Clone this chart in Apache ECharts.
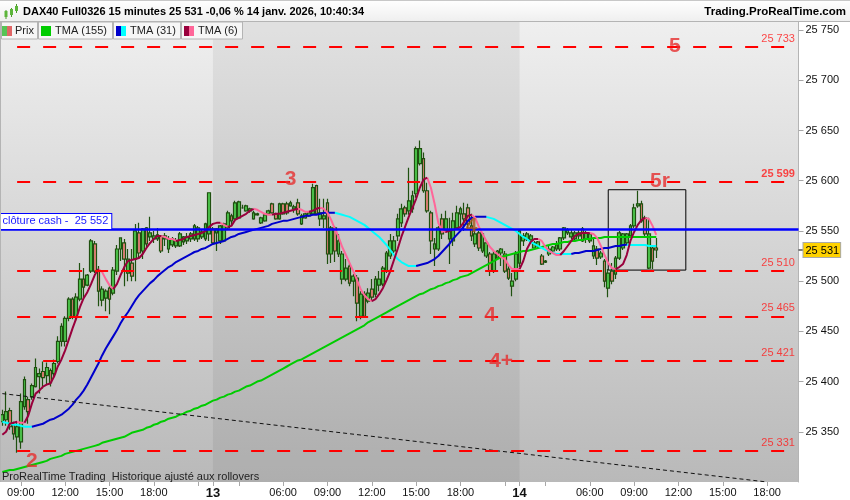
<!DOCTYPE html>
<html><head><meta charset="utf-8">
<style>html,body{margin:0;padding:0;background:#fff}#c{width:850px;height:500px}</style>
<script src="https://cdn.jsdelivr.net/npm/echarts@6/dist/echarts.min.js"></script>
</head><body><div id="c"></div>
<script>
const opens=[25360,25362,25371,25357,25345,25340,25375,25382,25385,25395,
25405,25410,25406,25411,25408,25420,25440,25440,25463,25482,
25464,25482,25502,25496,25510,25537,25510,25481,25483,25493,
25488,25510,25532,25538,25508,25518,25522,25548,25530,25553,
25544,25542,25542,25545,25542,25532,25536,25535,25535,25539,
25540,25542,25542,25542,25544,25542,25547,25552,25548,25540,
25540,25553,25565,25562,25563,25573,25570,25570,25562,25566,
25558,25560,25567,25577,25567,25562,25577,25577,25575,25572,
25578,25557,25563,25565,25567,25595,25562,25562,25578,25527,
25553,25527,25502,25502,25515,25500,25503,25465,25487,25480,
25492,25487,25496,25497,25510,25525,25530,25545,25558,25573,
25570,25572,25587,25617,25622,25590,25568,25532,25532,25562,
25550,25542,25540,25553,25567,25567,25573,25555,25537,25548,
25530,25525,25527,25510,25523,25528,25527,25512,25495,25502,
25518,25540,25542,25541,25533,25535,25525,25519,25527,25530,
25532,25532,25543,25548,25544,25542,25545,25552,25542,25540,
25525,25532,25524,25520,25493,25510,25507,25523,25533,25538,
25545,25555,25575,25577,25563,25513,25533,25533];
const closes=[25367,25370,25355,25348,25355,25380,25402,25370,25396,25414,
25408,25404,25414,25399,25418,25440,25455,25463,25482,25464,
25484,25502,25494,25506,25540,25510,25490,25492,25490,25482,
25511,25532,25543,25522,25522,25505,25550,25528,25552,25537,
25548,25545,25546,25530,25545,25542,25542,25540,25547,25544,
25544,25547,25555,25553,25549,25557,25588,25538,25552,25555,
25557,25568,25560,25578,25579,25573,25575,25572,25568,25567,
25563,25566,25570,25568,25562,25577,25567,25568,25578,25574,
25567,25565,25567,25568,25593,25567,25568,25565,25527,25553,
25530,25540,25527,25513,25498,25505,25478,25487,25465,25488,
25484,25502,25502,25513,25528,25540,25540,25562,25572,25567,
25580,25585,25632,25632,25590,25570,25540,25537,25553,25547,
25562,25550,25560,25568,25572,25562,25557,25545,25547,25533,
25547,25538,25510,25527,25530,25532,25510,25503,25500,25527,
25550,25545,25547,25545,25538,25539,25517,25520,25532,25534,
25536,25543,25553,25551,25548,25548,25548,25540,25548,25547,
25535,25523,25528,25500,25508,25500,25523,25548,25547,25547,
25555,25573,25577,25560,25547,25547,25520,25531];
const lows=[25356,25356,25352,25342,25329,25333,25372,25358,25382,25394,
25388,25393,25397,25395,25405,25418,25435,25435,25460,25462,
25460,25480,25483,25495,25508,25508,25475,25475,25470,25467,
25486,25506,25520,25495,25500,25500,25500,25522,25522,25534,
25540,25538,25540,25528,25535,25528,25534,25533,25534,25536,
25537,25539,25540,25539,25542,25540,25540,25536,25530,25537,
25539,25551,25556,25561,25562,25572,25569,25568,25561,25565,
25557,25559,25566,25567,25561,25561,25566,25566,25574,25568,
25565,25556,25562,25564,25566,25566,25555,25553,25517,25518,
25519,25524,25497,25500,25495,25485,25460,25462,25464,25478,
25480,25484,25490,25495,25508,25522,25528,25540,25554,25564,
25566,25568,25583,25615,25588,25568,25527,25515,25530,25542,
25548,25517,25535,25551,25555,25550,25552,25540,25534,25530,
25528,25523,25505,25508,25522,25515,25508,25501,25485,25500,
25514,25535,25540,25537,25531,25533,25516,25518,25525,25528,
25530,25530,25541,25546,25542,25540,25542,25539,25538,25538,
25522,25516,25522,25494,25484,25497,25502,25521,25531,25536,
25543,25553,25573,25558,25544,25512,25512,25523];
const highs=[25372,25390,25374,25360,25360,25388,25405,25385,25398,25423,
25413,25420,25419,25413,25422,25445,25458,25465,25484,25484,
25488,25518,25513,25507,25542,25540,25515,25495,25492,25496,
25514,25536,25543,25542,25532,25532,25557,25558,25553,25554,
25564,25550,25553,25546,25548,25545,25544,25543,25549,25545,
25548,25549,25557,25555,25551,25558,25588,25554,25553,25556,
25558,25570,25567,25580,25580,25576,25576,25573,25570,25568,
25564,25567,25571,25578,25568,25578,25578,25579,25580,25576,
25582,25567,25568,25569,25597,25596,25582,25582,25582,25555,
25555,25547,25530,25522,25518,25507,25506,25490,25490,25493,
25502,25505,25510,25515,25530,25547,25545,25567,25577,25575,
25613,25590,25634,25640,25628,25598,25570,25543,25555,25567,
25570,25563,25568,25575,25574,25578,25577,25567,25552,25550,
25547,25540,25529,25530,25531,25533,25530,25515,25508,25530,
25552,25548,25549,25547,25540,25540,25527,25521,25535,25535,
25540,25544,25554,25553,25552,25550,25552,25554,25550,25548,
25543,25535,25530,25522,25512,25518,25525,25550,25548,25548,
25557,25577,25590,25580,25565,25563,25535,25543];
const tma155=[25310,25311,25312,25312,25313,25314,25315,25316,25317,25318,25319,25320,25321,25323,25324,25325,25326,25328,25329,25330,25331,25332,25333,25334,25335,25336,25337,25339,25340,25341,25342,25343,25344,25345,25347,25349,25350,25351,25352,25354,25355,25357,25358,25360,25361,25363,25364,25365,25367,25368,25370,25371,25373,25374,25376,25377,25379,25381,25382,25384,25385,25387,25388,25390,25391,25393,25395,25396,25398,25400,25401,25403,25405,25407,25409,25411,25413,25415,25417,25419,25421,25422,25424,25426,25428,25430,25432,25434,25436,25438,25440,25442,25444,25446,25448,25450,25452,25454,25456,25459,25461,25463,25465,25467,25469,25471,25473,25475,25477,25479,25481,25483,25485,25487,25488,25490,25492,25493,25495,25496,25498,25499,25501,25502,25504,25505,25506,25508,25510,25512,25514,25516,25518,25520,25522,25524,25525,25526,25527,25528,25529,25530,25530,25531,25532,25533,25534,25535,25536,25537,25537,25538,25539,25539,25540,25540,25541,25541,25542,25542,25543,25543,25543,25544,25544,25544,25544,25544,25544,25544,25544,25544,25544,25544,25544,25544,25544,25544];
const tma31=[25360,25359,25358,25357,25357,25356,25355,25355,25355,25356,
25357,25358,25360,25362,25363,25365,25367,25370,25373,25377,
25382,25386,25391,25397,25404,25411,25418,25426,25433,25439,
25445,25451,25458,25464,25469,25475,25481,25486,25490,25494,
25498,25501,25505,25508,25511,25514,25516,25519,25521,25523,
25525,25527,25529,25530,25532,25533,25535,25537,25538,25539,
25540,25542,25544,25545,25547,25548,25549,25550,25551,25552,
25553,25554,25555,25557,25558,25559,25560,25560,25561,25562,
25563,25564,25565,25565,25566,25566,25567,25568,25568,25568,
25568,25567,25566,25565,25564,25562,25560,25558,25556,25553,
25550,25547,25544,25540,25536,25531,25526,25522,25519,25517,
25515,25515,25515,25516,25517,25518,25520,25522,25525,25529,
25533,25537,25542,25546,25550,25555,25560,25563,25564,25564,
25564,25564,25563,25562,25560,25558,25556,25554,25552,25550,
25547,25544,25542,25539,25537,25535,25533,25531,25530,25528,
25527,25527,25527,25527,25527,25528,25528,25529,25530,25530,
25530,25531,25532,25533,25533,25534,25535,25535,25536,25536.3,
25536,25536,25536,25536,25536,25535,25535,25535];
const tma6=[25347,25350,25358,25359,25360,25359,25359,25366,25378,25388,
25391,25395,25397,25398,25405,25415,25422,25431,25442,25453,
25463,25474,25483,25489,25497,25506,25512,25509,25502,25496,
25492,25497,25506,25514,25520,25521,25522,25523,25527,25533,
25538,25542,25545,25545,25544,25542,25542,25540,25541,25542,
25544,25545,25546,25547,25548,25550,25554,25557,25558,25558,
25556,25554,25555,25561,25563,25565,25567,25570,25572,25571,
25569,25567,25566,25566,25567,25567,25568,25569,25570,25571,
25572,25571,25569,25569,25570,25572,25573,25572,25568,25561,
25552,25544,25534,25526,25518,25510,25501,25492,25486,25482,
25480,25482,25487,25493,25501,25510,25521,25532,25544,25554,
25564,25573,25582,25593,25601,25603,25593,25577,25558,25550,
25549,25550,25551,25552,25554,25559,25565,25566,25563,25554,
25547,25540,25534,25530,25527,25524,25522,25516,25512,25512,
25512,25520,25532,25539,25542,25542,25540,25534,25530,25528,
25526,25526,25530,25535,25540,25545,25547,25548,25548,25548,
25547,25543,25535,25526,25518,25513,25512,25514,25517,25526,
25540,25549,25556,25561,25563,25562,25555,25546];
const levels=[25733,25599,25510,25465,25421,25331];
const boldLevels=[25599];
const cashClose=25552, lastPrice=25531;
const trendX=[0,207], trendY=[25388,25300];
const boxX=[164,185], boxY=[25591,25511];
const yTicks=[25350,25400,25450,25500,25550,25600,25650,25700,25750];
const notes=[['5',182,25734,'#e62e2e'],['5r',178,25599,'#e62e2e'],['3',78,25601,'#e62e2e'],
 ['4',132,25466,'#e62e2e'],['4+',135,25420,'#e62e2e'],['2',8,25321,'#e62e2e'],['4',127,25555,'#a8561c']];
const sessions=[['12',7*60+45,57],['13',75,83],['14',75,76]];
const hiddenTickLabels=['21:00','03:00'];

const categories=[];
sessions.forEach(([day,start,n],s)=>{
  for(let k=0;k<n;k++){
    const t=start+15*k, h=Math.floor(t/60), m=t%60;
    const name=(h<10?'0':'')+h+':'+(m<10?'0':'')+m;
    categories.push(k===0&&s>0?day:name);
  }
});
const isTick=(n)=>n.length===2||(/:00$/.test(n)&&parseInt(n)%3===0);
const isLabel=(n)=>isTick(n)&&!hiddenTickLabels.includes(n);
const fmt=(v)=>String(v).replace(/(\d\d)(\d{3})/,'$1 $2');
const FONT='"Liberation Sans", Arial, sans-serif';

function segSeries(vals,colorUp,colorDown,z){
  const up=vals.map(()=>null), dn=vals.map(()=>null);
  let rising=vals[1]>=vals[0];
  for(let i=0;i+1<vals.length;i++){
    if(vals[i+1]>vals[i])rising=true; else if(vals[i+1]<vals[i])rising=false;
    const t=rising?up:dn; t[i]=vals[i]; t[i+1]=vals[i+1];
  }
  const mk=(d,c)=>({type:'line',data:d,showSymbol:false,z,silent:true,sampling:null,
     lineStyle:{color:c,width:2},itemStyle:{color:c}});
  return [mk(dn,colorDown),mk(up,colorUp)];
}

const legendBoxes=[[1,36,'Prix',15,[[1,5,'#55c455'],[6,5,'#e06666']]],
 [38,74,'TMA (155)',55,[[3,10,'#00cc00']]],
 [113,67,'TMA (31)',17,[[3,5,'#0000cc'],[8,5,'#00ffff']]],
 [181,61,'TMA (6)',17,[[3,5,'#99003c'],[8,5,'#ff6699']]]];
const graphics=[
 {type:'rect',shape:{x:0,y:0,width:850,height:21},z:50,style:{fill:new echarts.graphic.LinearGradient(0,0,0,1,[{offset:0,color:'#ffffff'},{offset:1,color:'#efefef'}])}},
 {type:'rect',shape:{x:0,y:21,width:850,height:1},z:51,style:{fill:'#b4b4b4'}},
 {type:'rect',shape:{x:0,y:0,width:850,height:1},z:51,style:{fill:'#c8c8c8'}},
 {type:'rect',shape:{x:0,y:22,width:1,height:460},z:51,style:{fill:'#b4b4b4'}},
 {type:'text',x:23,y:6,z:52,style:{text:'DAX40 Full0326 15 minutes 25 531 -0,06 % 14 janv. 2026, 10:40:34',font:'bold 11px '+FONT,fill:'#000'}},
 {type:'text',x:846,y:6,z:52,style:{text:'Trading.ProRealTime.com',font:'bold 11.5px '+FONT,fill:'#000',align:'right'}},
 {type:'text',x:2,y:471,z:52,style:{text:'ProRealTime Trading  Historique ajusté aux rollovers',font:'11px '+FONT,fill:'#222'}}
];
[[6,10,19,11,17],[11.5,8,17,9,15],[16.5,4,13,6,11]].forEach(([x,a,b,c,d])=>{
  graphics.push({type:'rect',shape:{x:x-.5,y:a,width:1,height:b-a},z:52,style:{fill:'#4d9b2c'}});
  graphics.push({type:'rect',shape:{x:x-1.5,y:c,width:3,height:d-c},z:52,style:{fill:'#5cb53a'}});
});
legendBoxes.forEach(([x,w,txt,tw,sw])=>{
  graphics.push({type:'rect',shape:{x:x+.5,y:22,width:w,height:17},z:52,style:{fill:'#f6f6f6',stroke:'#b4b4b4',lineWidth:1}});
  sw.forEach(([dx,sw2,c])=>graphics.push({type:'rect',shape:{x:x+dx,y:26,width:sw2,height:10},z:53,style:{fill:c}}));
  graphics.push({type:'text',x:x+(txt==='Prix'?14:17),y:25,z:53,style:{text:txt,font:'11px '+FONT,fill:'#222'}});
});

const series=[
 {type:'candlestick',z:2,silent:true,barWidth:3.2,
  data:opens.map((o,i)=>[o,closes[i],lows[i],highs[i]]),
  itemStyle:{color:'#4ec94e',color0:'#e8807a',borderColor:'#1f5010',borderColor0:'#1f5010',borderColorDoji:'#1f5010',borderWidth:1.2},
  markArea:{silent:true,itemStyle:{color:'rgba(0,0,0,0.06)'},data:[[{xAxis:'13'},{xAxis:'14'}]]}
 },
 ...segSeries(tma155,'#00cc00','#00cc00',3),
 ...segSeries(tma31,'#0000cc','#00ffff',3),
 ...segSeries(tma6,'#99003c','#ff6699',3),
 {type:'line',z:3,silent:true,showSymbol:false,data:trendX.map((x,i)=>[x,trendY[i]]),
  lineStyle:{color:'#111',width:1,type:[4,3]}},
 {type:'line',z:4,data:[],silent:true,
  markLine:{silent:true,symbol:'none',animation:false,lineStyle:{color:'#ff0000',width:2,type:[13,13]},label:{show:false},
   data:levels.map(v=>[{coord:[4,v]},{coord:[212,v]}])}},
 {type:'scatter',z:6,silent:true,symbolSize:0,
  data:levels.map(v=>({value:[214,v],label:{fontWeight:boldLevels.includes(v)?'bold':'normal'}})),
  label:{show:true,position:'left',distance:0,offset:[2,-8],color:'#ff1a1a',fontSize:11,fontFamily:FONT,
   formatter:p=>fmt(p.value[1])}},
 {type:'line',z:5,data:[],silent:true,
  markLine:{silent:true,symbol:'none',animation:false,
   data:[
    {yAxis:cashClose,lineStyle:{color:'#0000ff',width:2.5,type:'solid'},
     label:{show:true,position:'insideStartTop',distance:[0,0],formatter:'clôture cash -  '+fmt(cashClose),color:'#1a1aff',
      backgroundColor:'#fff',borderColor:'#0000ff',borderWidth:1,padding:[2,3,2,2],fontSize:11,fontFamily:FONT}},
    {yAxis:lastPrice,lineStyle:{color:'rgba(0,0,0,0)',width:1,type:'solid'},
     label:{show:true,position:'end',distance:0,formatter:'{t|}{v|'+fmt(lastPrice)+'}',
      rich:{t:{width:5,height:1,backgroundColor:'#000'},
            v:{backgroundColor:'#ffd200',borderColor:'#aaa',borderWidth:1,padding:[2,1,1,2],fontSize:11,color:'#000',fontFamily:FONT}}}}
   ]}},
 {type:'line',z:7,data:[],silent:true,
  markArea:{silent:true,itemStyle:{color:'rgba(0,0,0,0)',borderColor:'#000',borderWidth:1},
   data:[[{coord:[boxX[0],boxY[0]]},{coord:[boxX[1],boxY[1]]}]]}},
 {type:'scatter',z:8,silent:true,symbolSize:0,
  data:notes.map(n=>({value:[n[1],n[2]],label:{formatter:n[0],color:n[3]}})),
  label:{show:true,position:'inside',fontSize:21,fontWeight:'bold',fontFamily:FONT}}
];

const chart=echarts.init(document.getElementById('c'),null,{renderer:'canvas'});
chart.setOption({
 animation:false,
 textStyle:{fontFamily:FONT},
 graphic:{elements:graphics},
 grid:{show:true,left:.5,top:22,width:798,height:460,borderWidth:0,
  backgroundColor:new echarts.graphic.LinearGradient(0,0,0,1,[{offset:0,color:'#efefef'},{offset:1,color:'#b9b9b9'}])},
 xAxis:{type:'category',data:categories,boundaryGap:true,
  axisLine:{show:false},
  axisTick:{show:true,alignWithLabel:true,length:4,lineStyle:{color:'#a8a8a8'},interval:(i,n)=>isTick(n)},
  axisLabel:{show:true,interval:(i,n)=>isLabel(n),margin:5,fontSize:11,color:'#111',hideOverlap:false,
   formatter:(n)=>n.length===2?'{d|'+n+'}':n,rich:{d:{fontWeight:'bold',fontSize:13,color:'#111'}}},
  splitLine:{show:false}},
 yAxis:{type:'value',position:'right',min:25300,max:25758,scale:true,
  axisLine:{show:true,lineStyle:{color:'#b4b4b4',width:1}},
  axisTick:{show:true,length:5,lineStyle:{color:'#a8a8a8'},customValues:yTicks},
  axisLabel:{show:true,margin:7,fontSize:11,color:'#111',formatter:fmt,customValues:yTicks},
  splitLine:{show:false}},
 series
});
</script></body></html>
